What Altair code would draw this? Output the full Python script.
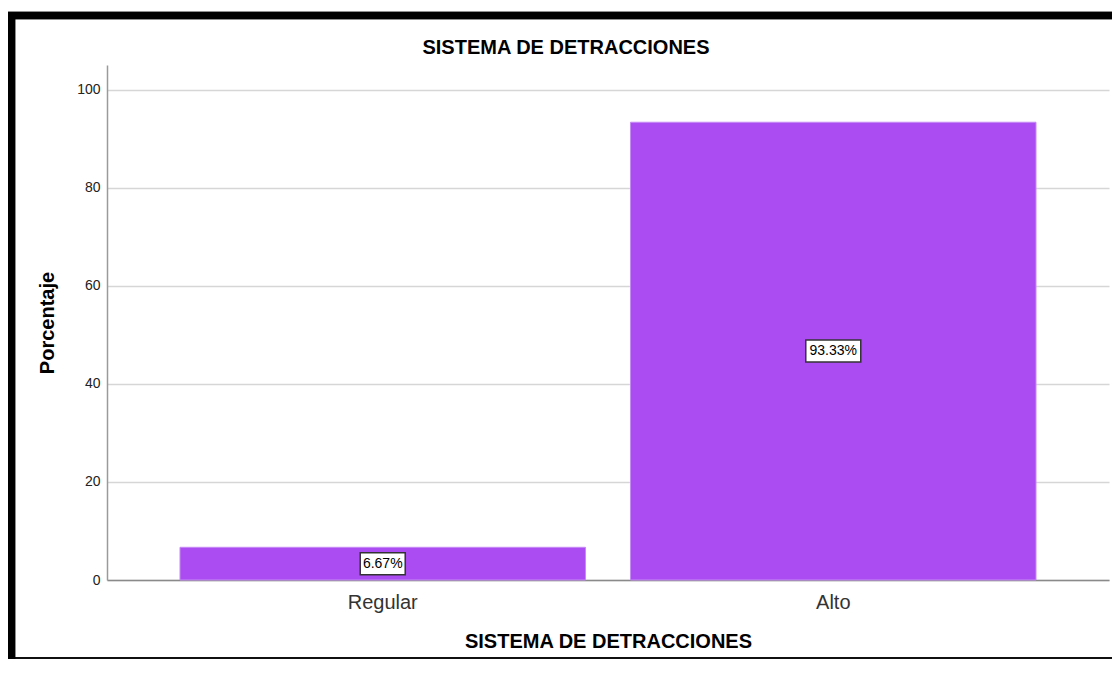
import altair as alt
import pandas as pd

categories = ["Regular", "Alto"]
percentages = [6.67, 93.33]
labels = ["6.67%", "93.33%"]
y_ticks = [0, 20, 40, 60, 80, 100]
chart_title = "SISTEMA DE DETRACCIONES"

df = pd.DataFrame({"cat": categories, "pct": percentages, "label": labels})

PURPLE = "#AB4CF2"
FONT = "Liberation Sans"

x_enc = alt.X(
    "cat:N",
    sort=categories,
    title="SISTEMA DE DETRACCIONES",
    scale=alt.Scale(paddingInner=0.1, paddingOuter=0.162),
    axis=alt.Axis(
        labelAngle=0, labelFontSize=20, labelColor="#333333", labelPadding=12,
        ticks=False, domainColor="#8a8a8a", domainWidth=1.5,
        titleFontSize=20, titleFontWeight="bold", titleColor="#000000", titlePadding=19,
    ),
)
y_scale = alt.Scale(domain=[0, 105], nice=False)

bars = alt.Chart(df).mark_bar(color=PURPLE, stroke="#C58AF5", strokeWidth=1).encode(
    x=x_enc,
    y=alt.Y(
        "pct:Q",
        scale=y_scale,
        title="Porcentaje",
        axis=alt.Axis(
            values=y_ticks, ticks=False, labelFontSize=14, labelColor="#222222", labelPadding=7,
            gridColor="#d6d6d6", gridWidth=1.5, domainColor="#9a9a9a", domainWidth=1.5,
            titleFontSize=20, titleFontWeight="bold", titleColor="#000000",
            titleX=-60, titleBaseline="middle",
        ),
    ),
)

base = alt.Chart(df).transform_calculate(
    mid="datum.pct / 2",
    hw="(10 * length(datum.label) - 5) / 2",
).transform_calculate(
    box="'M' + (-datum.hw) + ',-11L' + datum.hw + ',-11L' + datum.hw + ',11L' + (-datum.hw) + ',11Z'"
)

boxes = base.mark_point(
    filled=True, fill="white", stroke="#333333", strokeWidth=1.5, opacity=1, size=4
).encode(
    x=alt.X("cat:N", sort=categories),
    y=alt.Y("mid:Q", scale=y_scale),
    shape=alt.Shape("box:N", scale=None),
)

texts = base.mark_text(fontSize=14, color="#000000", font=FONT).encode(
    x=alt.X("cat:N", sort=categories),
    y=alt.Y("mid:Q", scale=y_scale),
    text="label:N",
)

title_mark = alt.Chart(df).transform_filter(alt.datum.cat == categories[0]).mark_text(
    fontSize=20, fontWeight="bold", color="#000000", font=FONT, baseline="middle", align="center"
).encode(
    x=alt.value(459), y=alt.value(-17), text=alt.value(chart_title)
)

frame_left = alt.Chart(df).mark_rule(color="#000000", strokeWidth=7.5).encode(
    x=alt.value(-95.5), y=alt.value(-53), y2=alt.value(594)
)
frame_top = alt.Chart(df).mark_rule(color="#000000", strokeWidth=7.5).encode(
    x=alt.value(-99), x2=alt.value(1005), y=alt.value(-49.5)
)
frame_bottom = alt.Chart(df).mark_rule(color="#000000", strokeWidth=1.5).encode(
    x=alt.value(-99), x2=alt.value(1005), y=alt.value(593)
)

chart = alt.layer(bars, boxes, texts, title_mark, frame_left, frame_top, frame_bottom).properties(
    width=1002,
    height=515,
    autosize=alt.AutoSizeParams(type="none"),
    padding={"left": 99, "top": 57, "right": 3, "bottom": 80},
).configure(
    font=FONT,
).configure_view(
    stroke=None,
).configure_axis(
    labelFont=FONT, titleFont=FONT,
)

chart.save("out.html", embed_options={"renderer": "svg", "actions": False})
